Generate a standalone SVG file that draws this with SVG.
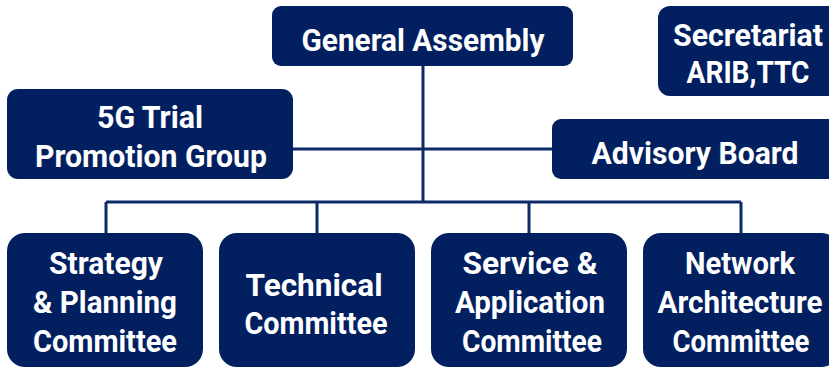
<svg xmlns="http://www.w3.org/2000/svg" width="829" height="368" viewBox="0 0 829 368">
<style>
.box{fill:#022060;}
.t{font-family:Roboto,"Liberation Sans",sans-serif;font-weight:bold;font-size:31px;fill:#ffffff;text-anchor:middle;}
.c{stroke:#0d2a66;stroke-width:3;fill:none;}
</style>
<rect width="829" height="368" fill="#ffffff"/>
<g id="connectors">
<path class="c" d="M423 66V202M293 149H552M106 202H741M106 202V234M317 202V234M529 202V234M741 202V234"/>
</g>
<g id="general-assembly">
<rect class="box" x="272" y="6" width="301" height="60" rx="9"/>
<text class="t" x="423" y="51" textLength="243" lengthAdjust="spacingAndGlyphs">General Assembly</text>
</g>
<g id="secretariat">
<rect class="box" x="658" y="6" width="182" height="90" rx="12"/>
<text class="t" x="748" y="46" textLength="150" lengthAdjust="spacingAndGlyphs">Secretariat</text>
<text class="t" x="748" y="83" textLength="123" lengthAdjust="spacingAndGlyphs">ARIB,TTC</text>
</g>
<g id="trial-group">
<rect class="box" x="7" y="89" width="286" height="90" rx="11"/>
<text class="t" x="150" y="128" textLength="106" lengthAdjust="spacingAndGlyphs">5G Trial</text>
<text class="t" x="151" y="167" textLength="232" lengthAdjust="spacingAndGlyphs">Promotion Group</text>
</g>
<g id="advisory-board">
<rect class="box" x="552" y="119" width="290" height="60" rx="9"/>
<text class="t" x="695" y="164" textLength="207" lengthAdjust="spacingAndGlyphs">Advisory Board</text>
</g>
<g id="strategy">
<rect class="box" x="7" y="233" width="196" height="134" rx="18"/>
<text class="t" x="106" y="274" textLength="114" lengthAdjust="spacingAndGlyphs">Strategy</text>
<text class="t" x="105" y="313" textLength="144" lengthAdjust="spacingAndGlyphs">&amp; Planning</text>
<text class="t" x="105" y="352" textLength="144" lengthAdjust="spacingAndGlyphs">Committee</text>
</g>
<g id="technical">
<rect class="box" x="219" y="233" width="196" height="134" rx="18"/>
<text class="t" x="314" y="296" textLength="137" lengthAdjust="spacingAndGlyphs">Technical</text>
<text class="t" x="316" y="334" textLength="143" lengthAdjust="spacingAndGlyphs">Committee</text>
</g>
<g id="service">
<rect class="box" x="431" y="233" width="196" height="134" rx="18"/>
<text class="t" x="530" y="274" textLength="135" lengthAdjust="spacingAndGlyphs">Service &amp;</text>
<text class="t" x="530" y="313" textLength="150" lengthAdjust="spacingAndGlyphs">Application</text>
<text class="t" x="532" y="352" textLength="140" lengthAdjust="spacingAndGlyphs">Committee</text>
</g>
<g id="network">
<rect class="box" x="643" y="233" width="196" height="134" rx="18"/>
<text class="t" x="740" y="274" textLength="110" lengthAdjust="spacingAndGlyphs">Network</text>
<text class="t" x="740" y="313" textLength="165" lengthAdjust="spacingAndGlyphs">Architecture</text>
<text class="t" x="741" y="352" textLength="137" lengthAdjust="spacingAndGlyphs">Committee</text>
</g>
</svg>
